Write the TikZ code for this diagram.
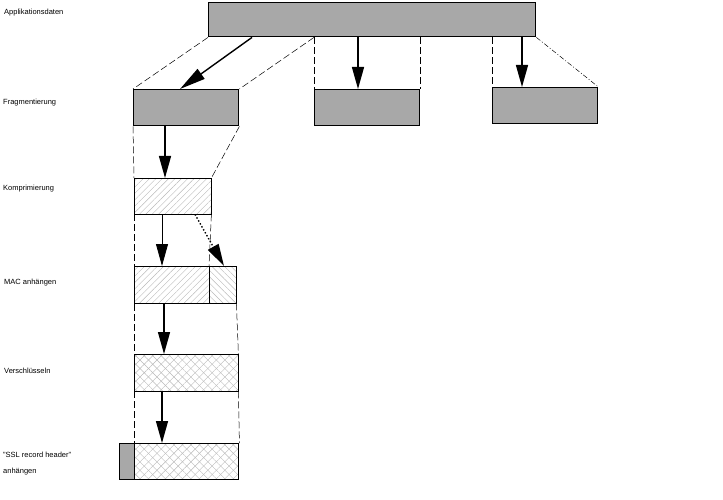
\documentclass[tikz,border=0pt]{standalone}
\usepackage{fontspec}
\setmainfont{Liberation Sans}
\usetikzlibrary{arrows.meta,calc,patterns.meta}

\definecolor{boxgray}{RGB}{168,168,168}
\definecolor{hatchgray}{RGB}{185,185,185}

\begin{document}
\begin{tikzpicture}[
    x=1pt, y=-1pt,
    block/.style={
        rectangle,
        draw,
        line width=1.4pt,
        inner sep=0pt,
        anchor=north west
    },
    datbox/.style={
        block,
        fill=boxgray
    },
    comprbox/.style={
        block,
        pattern={Lines[angle=45,distance=4.5pt,line width=0.4pt]},
        pattern color=hatchgray
    },
    macbox/.style={
        block,
        pattern={Lines[angle=-45,distance=4.5pt,line width=0.4pt]},
        pattern color=hatchgray
    },
    encbox/.style={
        block,
        preaction={pattern={Lines[angle=45,distance=6pt,line width=0.4pt]}, pattern color=hatchgray},
        pattern={Lines[angle=-45,distance=6pt,line width=0.4pt]},
        pattern color=hatchgray
    },
    steplabel/.style={
        anchor=west,
        inner sep=0pt,
        font=\fontsize{7.5}{16}\selectfont,
        align=left
    },
    guide/.style={
        draw,
        line width=0.5pt,
        dash pattern=on 7pt off 3pt
    },
    line/.style={
        draw,
        -{Triangle[length=22pt,width=12pt]},
        line width=1.4pt
    }
]
    \useasboundingbox (0,0) rectangle (723,500);

    % Stufen
    \node [steplabel] (l_app)   at (4,13)  {Applikationsdaten};
    \node [steplabel] (l_frag)  at (3,103) {Fragmentierung};
    \node [steplabel] (l_kompr) at (3,189) {Komprimierung};
    \node [steplabel] (l_mac)   at (4,283) {MAC anhängen};
    \node [steplabel] (l_enc)   at (4,371) {Verschlüsseln};
    \node [steplabel] (l_ssl)   at (3,464) {"SSL record header"\\anhängen};

    % Applikationsdaten
    \node [datbox, minimum width=327pt, minimum height=34pt] (app) at (208,2) {};

    % Fragmente
    \node [datbox, minimum width=105pt, minimum height=36pt] (frag1) at (133,89) {};
    \node [datbox, minimum width=105pt, minimum height=36pt] (frag2) at (314,89) {};
    \node [datbox, minimum width=105pt, minimum height=36pt] (frag3) at (492,87) {};

    % Komprimierung
    \node [comprbox, minimum width=77pt, minimum height=36pt] (kompr) at (134,178) {};

    % MAC
    \node [comprbox, minimum width=75pt, minimum height=37pt] (macdata) at (134,266) {};
    \node [macbox, minimum width=27pt, minimum height=37pt] (mac) at (209,266) {};

    % Verschluesselung
    \node [encbox, minimum width=104pt, minimum height=37pt] (enc) at (134,354) {};

    % Header
    \node [datbox, minimum width=15pt, minimum height=36pt] (hdr) at (119,443) {};
    \node [encbox, minimum width=104pt, minimum height=36pt] (sslenc) at (134,443) {};

    % Hilfslinien
    \path [guide] (app.south west) -- (frag1.north west);
    \path [guide] (app.south -| frag2.north west) -- (frag1.north east);
    \path [guide] (app.south -| frag2.north west) -- (frag2.north west);
    \path [guide] (app.south -| frag2.north east) -- (frag2.north east);
    \path [guide] (app.south -| frag3.north west) -- (frag3.north west);
    \path [guide, dash pattern=on 5pt off 2pt on 1pt off 2pt] (app.south east) -- (frag3.north east);

    \path [guide] (frag1.south west) -- (kompr.north west);
    \path [guide] (frag1.south east) -- (kompr.north east);
    \path [guide] (kompr.south west) -- (macdata.north west);
    \path [guide] (kompr.south east) -- (mac.north west);
    \path [guide] (macdata.south west) -- (enc.north west);
    \path [guide] (mac.south east) -- (enc.north east);
    \path [guide] (enc.south west) -- (sslenc.north west);
    \path [guide] (enc.south east) -- (sslenc.north east);

    % Pfeile
    \coordinate (f2in) at ([xshift=44pt]frag2.north west);
    \coordinate (f3in) at ([xshift=30pt]frag3.north west);

    \path [line, -{Triangle[length=26pt,width=12pt]}] ([xshift=44pt]app.south west) -- ([xshift=47pt]frag1.north west);
    \path [line] (f2in |- app.south) -- (f2in);
    \path [line] (f3in |- app.south) -- (f3in);

    \path [line] ([xshift=32pt]frag1.south west) -- ([xshift=31pt]kompr.north west);
    \path [line, line width=0.8pt] ([xshift=28pt]kompr.south west) -- ([xshift=28pt]macdata.north west);
    \path [line, dotted] ([xshift=61pt]kompr.south west) -- ([xshift=15pt]mac.north west);
    \path [line] ([xshift=30pt]macdata.south west) -- ([xshift=30pt]enc.north west);
    \path [line] ([xshift=28pt]enc.south west) -- ([xshift=28pt]sslenc.north west);

\end{tikzpicture}
\end{document}
